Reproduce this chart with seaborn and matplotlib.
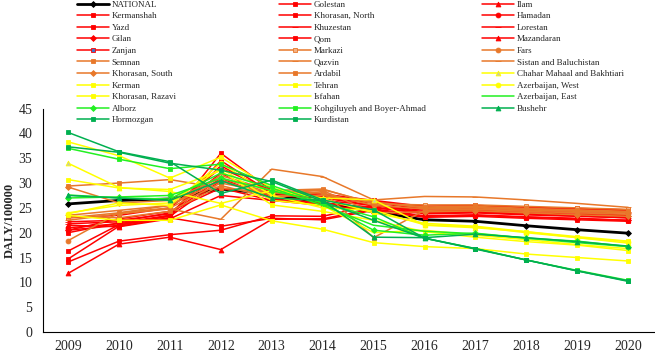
import numpy as np
import pandas as pd
import matplotlib
matplotlib.use("Agg")
import matplotlib.pyplot as plt
import seaborn as sns
from matplotlib.ticker import FixedLocator

# ---- data (DALY per 100000) ----
years = list(range(2009, 2021))

national = [25.8, 26.5, 26.8, 28.8, 27.8, 26.0, 24.2, 22.6, 22.3, 21.4, 20.6, 19.9]

golestan = [20.5, 21.5, 23.5, 33.5, 28.0, 27.0, 25.5, 24.5, 24.6, 24.3, 24.0, 23.6]
ilam = [11.8, 17.7, 19.1, 16.6, 22.7, 22.8, 24.8, 23.4, 23.6, 23.2, 22.9, 22.5]
kermanshah = [14.1, 18.3, 19.6, 20.5, 23.4, 23.3, 25.6, 24.0, 24.2, 23.8, 23.5, 23.1]
khorasan_north = [14.7, 21.3, 23.0, 21.3, 22.9, 22.6, 24.5, 23.1, 23.3, 22.9, 22.6, 22.3]
hamadan = [21.0, 21.8, 23.3, 30.5, 27.5, 27.0, 26.0, 24.8, 25.0, 24.6, 24.3, 24.0]
yazd = [16.3, 21.6, 23.0, 36.0, 28.5, 27.5, 26.2, 25.3, 25.4, 25.0, 24.8, 24.4]
khuzestan = [21.8, 22.2, 24.0, 32.0, 27.0, 26.5, 25.5, 24.2, 24.4, 24.0, 23.7, 23.4]
lorestan = [22.2, 22.5, 23.8, 31.0, 26.8, 26.0, 25.0, 24.0, 24.1, 23.7, 23.4, 23.0]
gilan = [20.5, 22.8, 24.3, 29.0, 26.5, 25.5, 24.6, 23.3, 23.5, 23.1, 22.8, 22.5]
qom = [20.0, 22.0, 23.5, 34.5, 28.0, 27.2, 26.3, 25.0, 25.2, 24.8, 24.5, 24.2]
mazandaran = [21.5, 21.2, 22.8, 27.5, 26.5, 25.8, 25.2, 23.8, 24.0, 23.6, 23.3, 23.0]
zanjan = [23.0, 23.5, 25.0, 33.0, 28.5, 27.8, 26.5, 25.3, 25.5, 25.1, 24.9, 24.6]

markazi = [23.0, 24.0, 25.5, 31.5, 28.5, 28.8, 25.8, 25.6, 25.6, 25.3, 25.0, 24.7]
fars = [18.4, 24.0, 25.0, 30.0, 28.0, 28.0, 25.5, 24.8, 25.0, 24.6, 24.3, 24.0]
semnan = [29.4, 30.0, 30.7, 29.0, 28.0, 28.7, 26.0, 25.2, 25.3, 24.9, 24.6, 24.3]
qazvin = [23.5, 24.5, 25.5, 30.5, 27.5, 27.5, 26.2, 25.0, 25.1, 24.7, 24.4, 24.1]
sistan = [22.5, 23.8, 24.8, 22.7, 32.8, 31.3, 26.6, 27.3, 27.2, 26.6, 25.9, 25.1]
khorasan_south = [29.2, 26.0, 26.5, 31.0, 28.0, 28.5, 24.0, 24.2, 24.4, 24.0, 23.6, 23.3]
ardabil = [23.3, 23.0, 24.3, 29.5, 27.0, 28.3, 19.0, 24.5, 24.7, 24.3, 24.0, 23.7]

chahar = [34.0, 29.1, 28.3, 25.9, 28.5, 27.0, 26.6, 21.5, 21.0, 20.2, 19.0, 17.9]
kerman = [38.3, 35.5, 31.0, 35.2, 29.0, 26.8, 24.0, 21.9, 21.3, 20.2, 19.2, 18.3]
tehran = [30.7, 29.0, 28.7, 32.5, 25.6, 24.3, 22.5, 20.2, 19.1, 18.2, 17.5, 16.4]
azerbaijan_west = [23.8, 26.0, 25.5, 34.0, 27.5, 25.0, 24.5, 21.6, 21.2, 20.0, 19.0, 18.2]
khorasan_razavi = [23.5, 22.5, 22.5, 25.6, 22.4, 20.7, 18.0, 17.2, 16.8, 15.7, 15.0, 14.3]
isfahan = [24.0, 25.5, 26.0, 33.0, 26.5, 25.5, 20.0, 20.5, 19.5, 18.6, 17.6, 16.8]

azerbaijan_east = [27.6, 27.0, 26.8, 32.0, 29.0, 25.5, 21.5, 20.3, 19.8, 18.9, 18.0, 17.2]
alborz = [27.0, 27.2, 27.5, 31.0, 28.5, 26.0, 20.5, 19.5, 19.9, 18.9, 18.3, 17.2]
kohgiluyeh = [37.0, 34.8, 32.9, 33.8, 29.5, 26.0, 23.2, 18.9, 16.8, 14.5, 12.4, 10.4]
bushehr = [27.5, 27.0, 26.5, 30.5, 27.0, 26.5, 19.1, 19.0, 19.7, 19.0, 18.2, 17.3]
hormozgan = [40.2, 36.3, 34.3, 27.9, 30.6, 26.6, 24.6, 18.9, 16.8, 14.5, 12.3, 10.3]
kurdistan = [37.3, 36.2, 34.0, 32.6, 30.3, 26.3, 22.5, 18.9, 16.7, 14.5, 12.3, 10.2]

series = {
    "NATIONAL": national,
    "Golestan": golestan, "Ilam": ilam, "Kermanshah": kermanshah,
    "Khorasan, North": khorasan_north, "Hamadan": hamadan, "Yazd": yazd,
    "Khuzestan": khuzestan, "Lorestan": lorestan, "Gilan": gilan, "Qom": qom,
    "Mazandaran": mazandaran, "Zanjan": zanjan, "Markazi": markazi, "Fars": fars,
    "Semnan": semnan, "Qazvin": qazvin, "Sistan and Baluchistan": sistan,
    "Khorasan, South": khorasan_south, "Ardabil": ardabil,
    "Chahar Mahaal and Bakhtiari": chahar, "Kerman": kerman, "Tehran": tehran,
    "Azerbaijan, West": azerbaijan_west, "Khorasan, Razavi": khorasan_razavi,
    "Isfahan": isfahan, "Azerbaijan, East": azerbaijan_east, "Alborz": alborz,
    "Kohgiluyeh and Boyer-Ahmad": kohgiluyeh, "Bushehr": bushehr,
    "Hormozgan": hormozgan, "Kurdistan": kurdistan,
}

# ---- styles ----
RED, ORANGE, YELLOW, LIME, DGREEN = "#FF0000", "#E8782A", "#FFFF00", "#22F022", "#00B050"
styles = {
    "NATIONAL": (  "black", "D", None, 2.0),
    "Golestan": (RED, "s", None, None), "Ilam": (RED, "^", None, None),
    "Kermanshah": (RED, "s", None, None), "Khorasan, North": (RED, "s", None, None),
    "Hamadan": (RED, "o", None, None), "Yazd": (RED, "s", None, None),
    "Khuzestan": (RED, "_", None, None), "Lorestan": (RED, "_", None, None),
    "Gilan": (RED, "D", None, None), "Qom": (RED, "s", None, None),
    "Mazandaran": (RED, "^", None, None), "Zanjan": (RED, "s", "#4472C4", None),
    "Markazi": (ORANGE, "s", "#F4B183", None), "Fars": (ORANGE, "o", None, None),
    "Semnan": (ORANGE, "s", None, None), "Qazvin": (ORANGE, "_", None, None),
    "Sistan and Baluchistan": (ORANGE, "_", None, None),
    "Khorasan, South": (ORANGE, "D", None, None), "Ardabil": (ORANGE, "s", None, None),
    "Chahar Mahaal and Bakhtiari": (YELLOW, "^", "#C8C8A8", None),
    "Kerman": (YELLOW, "s", None, None), "Tehran": (YELLOW, "s", None, None),
    "Azerbaijan, West": (YELLOW, "o", None, None),
    "Khorasan, Razavi": (YELLOW, "s", None, None), "Isfahan": (YELLOW, "", None, None),
    "Azerbaijan, East": (LIME, "", None, None), "Alborz": (LIME, "D", None, None),
    "Kohgiluyeh and Boyer-Ahmad": (LIME, "s", None, None), "Bushehr": (DGREEN, "^", None, None),
    "Hormozgan": (DGREEN, "s", None, None), "Kurdistan": (DGREEN, "s", None, None),
}

sns.set_style("white")
plt.rcParams["font.family"] = ["Liberation Serif", "DejaVu Serif"]

fig = plt.figure(figsize=(6.55, 3.56), dpi=100)
ax = fig.add_axes([0.065, 0.0674, 0.933, 0.6276])

handles = {}
for name, vals in series.items():
    color, marker, mfc, lw = styles[name]
    df = pd.DataFrame({"year": years, "daly": vals})
    ms = 3.5 if marker in ("s", "o", "^") else 3.0
    if marker == "_":
        ms = 4
    sns.lineplot(data=df, x="year", y="daly", ax=ax, color=color, marker=marker if marker else None,
                 markersize=ms, markerfacecolor=mfc if mfc else color,
                 markeredgecolor=color, markeredgewidth=0.6,
                 linewidth=lw if lw else 1.1, legend=False)
    handles[name] = ax.lines[-1]

ax.set_xlim(2008.5, 2020.5)
ax.set_ylim(0, 45)
ax.set_yticks(range(0, 46, 5))
ax.set_xticks(years)
ax.xaxis.set_minor_locator(FixedLocator(np.arange(2008.5, 2021, 1.0)))
ax.tick_params(axis="x", which="major", length=0, labelsize=10, pad=6)
ax.tick_params(axis="x", which="minor", length=4, width=0.8, direction="out", color="black")
ax.tick_params(axis="y", length=4, width=0.8, direction="out", labelsize=10, color="black")
for s in ("top", "right"):
    ax.spines[s].set_visible(False)
for s in ("left", "bottom"):
    ax.spines[s].set_color("black")
    ax.spines[s].set_linewidth(0.8)
ax.set_xlabel("")
ax.set_ylabel("DALY/100000", fontsize=9, fontweight="bold", labelpad=2)

col1 = ["NATIONAL", "Kermanshah", "Yazd", "Gilan", "Zanjan", "Semnan", "Khorasan, South",
        "Kerman", "Khorasan, Razavi", "Alborz", "Hormozgan"]
col2 = ["Golestan", "Khorasan, North", "Khuzestan", "Qom", "Markazi", "Qazvin", "Ardabil",
        "Tehran", "Isfahan", "Kohgiluyeh and Boyer-Ahmad", "Kurdistan"]
col3 = ["Ilam", "Hamadan", "Lorestan", "Mazandaran", "Fars", "Sistan and Baluchistan",
        "Chahar Mahaal and Bakhtiari", "Azerbaijan, West", "Azerbaijan, East", "Bushehr"]

for col, x0 in ((col1, 78), (col2, 280), (col3, 483)):
    fig.legend([handles[n] for n in col], col, loc="upper left",
               bbox_to_anchor=(x0 / 655 - 0.001, 0.999), frameon=False, fontsize=6.5,
               handlelength=3.5, handletextpad=0.3, labelspacing=0.36,
               borderpad=0, borderaxespad=0)

fig.savefig("out.png", dpi=100)
